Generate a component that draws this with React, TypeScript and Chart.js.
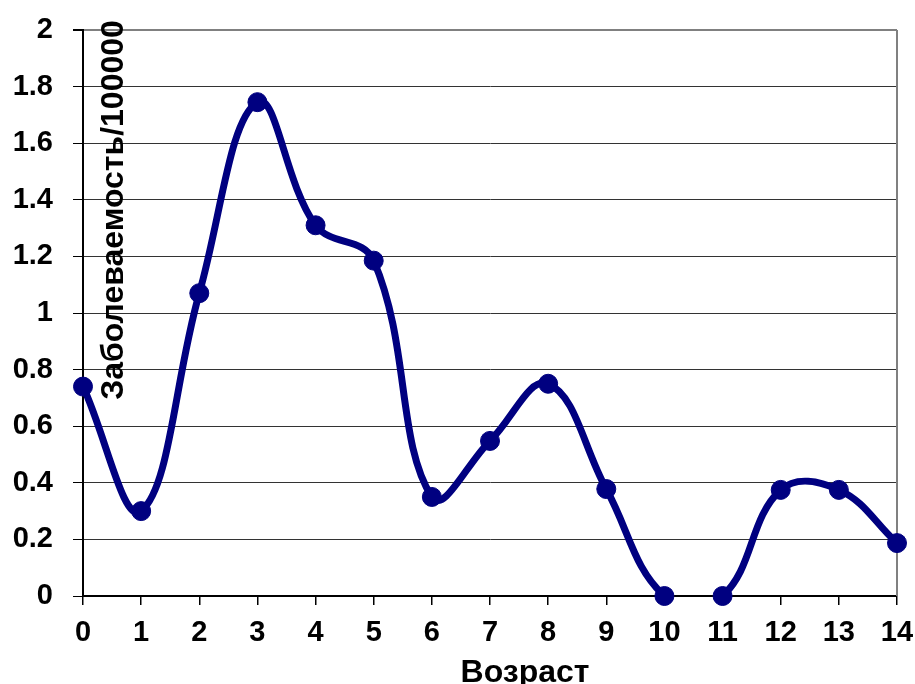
import React, { useEffect, useRef } from 'react';
import { Chart, registerables } from 'chart.js';

Chart.register(...registerables);

const ages = ['0', '1', '2', '3', '4', '5', '6', '7', '8', '9', '10', '11', '12', '13', '14'];
const incidence = [0.74, 0.3, 1.07, 1.745, 1.31, 1.185, 0.35, 0.548, 0.75, 0.378, 0, 0, 0.375, 0.375, 0.187];
const yMin = 0;
const yMax = 2;
const yStep = 0.2;
const xTitle = 'Возраст';
const yTitle = 'Заболеваемость/100000';

const FONT = "'Liberation Sans', Arial, sans-serif";
const NAVY = '#000080';

const titlesPlugin = {
  id: 'titlesPlugin',
  beforeDatasetsDraw(chart: any) {
    const { ctx, chartArea } = chart;
    ctx.save();
    ctx.strokeStyle = '#808080';
    ctx.lineWidth = 2;
    ctx.beginPath();
    ctx.moveTo(chartArea.right, chartArea.top);
    ctx.lineTo(chartArea.right, chartArea.bottom);
    ctx.stroke();
    ctx.restore();
  },
  afterDraw(chart: any) {
    const { ctx } = chart;
    ctx.save();
    ctx.fillStyle = '#000';
    ctx.font = `bold 32px ${FONT}`;
    ctx.textAlign = 'center';
    ctx.textBaseline = 'alphabetic';
    ctx.fillText(xTitle, 525, 682);
    ctx.translate(123, 210);
    ctx.rotate(-Math.PI / 2);
    ctx.fillText(yTitle, 0, 0);
    ctx.restore();
  },
};

export default function App() {
  const ref = useRef<HTMLCanvasElement>(null);
  useEffect(() => {
    document.body.style.margin = '0';
    const chart = new Chart(ref.current as HTMLCanvasElement, {
      type: 'line',
      data: {
        labels: ages,
        datasets: [
          {
            data: incidence,
            borderColor: NAVY,
            borderWidth: 7,
            tension: 0.4,
            capBezierPoints: false,
            pointRadius: 0,
            fill: false,
          } as any,
          {
            data: incidence,
            showLine: false,
            pointRadius: 9.5,
            pointBackgroundColor: NAVY,
            pointBorderColor: NAVY,
            pointBorderWidth: 1,
            clip: false as any,
          },
        ],
      },
      options: {
        animation: false,
        responsive: false,
        maintainAspectRatio: false,
        layout: { padding: { top: 30, right: 18, left: 0, bottom: 0 } },
        plugins: { legend: { display: false }, tooltip: { enabled: false }, title: { display: false } },
        scales: {
          x: {
            type: 'category',
            offset: false,
            afterFit: (s: any) => { s.height = 88; s.paddingLeft = 0; s.paddingRight = 0; },
            grid: { display: true, drawOnChartArea: false, drawTicks: true, tickLength: 9, tickColor: '#000', lineWidth: 1.5 },
            border: { display: true, color: '#000', width: 2 },
            ticks: { color: '#000', padding: 11, maxRotation: 0, autoSkip: false, font: { family: FONT, size: 29, weight: 'bold' } },
          },
          y: {
            min: yMin,
            max: yMax,
            afterFit: (s: any) => { s.width = 83; s.paddingTop = 0; s.paddingBottom = 0; },
            grid: {
              drawTicks: true,
              tickLength: 10,
              tickColor: '#000',
              color: (c: any) => (c.tick && Math.abs(c.tick.value - yMax) < 1e-6 ? '#808080' : '#333'),
              lineWidth: (c: any) => (c.tick && Math.abs(c.tick.value - yMax) < 1e-6 ? 2 : 1),
            },
            border: { display: true, color: '#000', width: 2 },
            ticks: {
              stepSize: yStep,
              color: '#000',
              padding: 20,
              font: { family: FONT, size: 29, weight: 'bold' },
              callback: (v: any) => String(Number(Number(v).toFixed(1))),
            },
          },
        },
      },
      plugins: [titlesPlugin],
    });
    return () => chart.destroy();
  }, []);
  return (
    <div style={{ position: 'fixed', left: 0, top: 0, width: 915, height: 684, background: '#fff' }}>
      <canvas ref={ref} width={915} height={684} style={{ width: 915, height: 684, display: 'block' }} />
    </div>
  );
}
